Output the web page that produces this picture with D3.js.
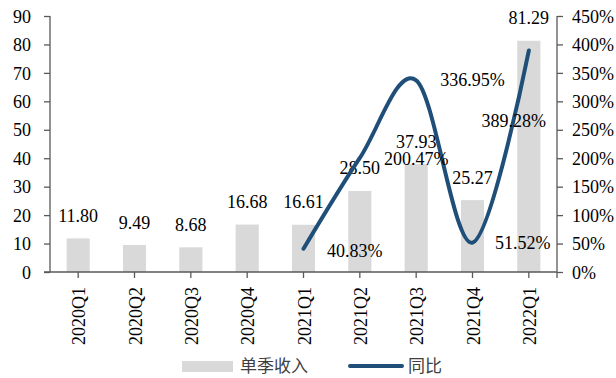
<!DOCTYPE html>
<html>
<head>
<meta charset="utf-8">
<script src="https://cdn.jsdelivr.net/npm/d3@7"></script>
<style>
  html, body { margin: 0; padding: 0; background: #fff; }
  svg { display: block; }
  .num { font-family: "Liberation Serif", "Times New Roman", serif; font-size: 18px; fill: #000; }
  .legend { font-family: "Noto Sans CJK SC", sans-serif; font-size: 17px; fill: #404040; }
</style>
</head>
<body>
<svg id="chart" width="616" height="378"></svg>
<script>
// Quarterly revenue (left axis) and year-on-year growth in % (right axis)
const quarters = ["2020Q1", "2020Q2", "2020Q3", "2020Q4", "2021Q1", "2021Q2", "2021Q3", "2021Q4", "2022Q1"];
const revenue = [11.80, 9.49, 8.68, 16.68, 16.61, 28.50, 37.93, 25.27, 81.29];
const yoy = [null, null, null, null, 40.83, 200.47, 336.95, 51.52, 389.28];
const leftTicks = [0, 10, 20, 30, 40, 50, 60, 70, 80, 90];
const rightTicks = [0, 50, 100, 150, 200, 250, 300, 350, 400, 450];
const seriesNames = ["单季收入", "同比"];

const svg = d3.select("#chart");
const plotL = 50, plotR = 557, plotT = 16, plotB = 272;
const axisColor = "#595959";
const barColor = "#d9d9d9";
const lineColor = "#1f4e79";

const x = d3.scaleBand().domain(quarters).range([plotL, plotR]).padding(0);
const yL = d3.scaleLinear().domain([0, 90]).range([plotB, plotT]);
const yR = d3.scaleLinear().domain([0, 450]).range([plotB, plotT]);
const cx = q => x(q) + x.bandwidth() / 2;
const barW = x.bandwidth() * 0.41;

// bars
svg.append("g").selectAll("rect").data(quarters).join("rect")
  .attr("x", (q) => cx(q) - barW / 2)
  .attr("y", (q, i) => yL(revenue[i]))
  .attr("width", barW)
  .attr("height", (q, i) => yL(0) - yL(revenue[i]))
  .attr("fill", barColor);

// bar value labels
svg.append("g").selectAll("text").data(quarters).join("text")
  .attr("class", "num")
  .attr("text-anchor", "middle")
  .attr("x", q => cx(q))
  .attr("y", (q, i) => yL(revenue[i]) - 16.5)
  .text((q, i) => revenue[i].toFixed(2));

// growth line
const pts = quarters.map((q, i) => ({ q, v: yoy[i] })).filter(d => d.v != null);
svg.append("path")
  .datum(pts)
  .attr("fill", "none")
  .attr("stroke", lineColor)
  .attr("stroke-width", 4)
  .attr("stroke-linecap", "round")
  .attr("d", d3.line().x(d => cx(d.q)).y(d => yR(d.v)).curve(d3.curveCatmullRom.alpha(0)));

// growth labels: each sits one slot to the right of its point
const growthLabelPlace = [
  { i: 4, at: 5, dx: -5, dy: 8 },
  { i: 5, at: 6, dx: 0, dy: 7.5 },
  { i: 6, at: 7, dx: 0, dy: 6 },
  { i: 7, at: 8, dx: -6, dy: 6.5 },
  { i: 8, at: 8, dx: -15, dy: 76 }
];
svg.append("g").selectAll("text").data(growthLabelPlace).join("text")
  .attr("class", "num")
  .attr("text-anchor", "middle")
  .attr("x", d => cx(quarters[d.at]) + d.dx)
  .attr("y", d => yR(yoy[d.i]) + d.dy)
  .text(d => yoy[d.i].toFixed(2) + "%");

// left axis
const gL = svg.append("g").attr("transform", `translate(${plotL},0)`)
  .call(d3.axisLeft(yL).tickValues(leftTicks).tickSize(6).tickPadding(13).tickFormat(d3.format("d")));
// right axis
const gR = svg.append("g").attr("transform", `translate(${plotR},0)`)
  .call(d3.axisRight(yR).tickValues(rightTicks).tickSize(6).tickPadding(9).tickFormat(d => d + "%"));
// bottom axis
const gB = svg.append("g").attr("transform", `translate(0,${plotB})`)
  .call(d3.axisBottom(x).tickSize(6).tickSizeOuter(0).tickFormat(""));

[gL, gR, gB].forEach(g => {
  g.select(".domain").attr("stroke", axisColor).attr("stroke-width", 1.3);
  g.selectAll(".tick line").attr("stroke", axisColor).attr("stroke-width", 1.3);
  g.selectAll(".tick text").attr("class", "num").attr("font-family", null).attr("font-size", null);
});
gL.select(".domain").attr("d", `M0,${plotT}V${plotB}`);
gR.select(".domain").attr("d", `M0,${plotT}V${plotB}`);
gB.select(".domain").attr("d", `M${plotL - 6},0H${plotR}`);
// end tick under the right axis
gB.append("line").attr("x1", plotR).attr("x2", plotR).attr("y1", 0).attr("y2", 6)
  .attr("stroke", axisColor).attr("stroke-width", 1.3);
gL.selectAll(".tick text").attr("dy", "0.34em");
gR.selectAll(".tick text").attr("dy", "0.34em");

// rotated category labels
svg.append("g").selectAll("text").data(quarters).join("text")
  .attr("class", "num")
  .attr("text-anchor", "end")
  .attr("dominant-baseline", "central")
  .attr("transform", q => `translate(${cx(q) + 1},287) rotate(-90)`)
  .text(q => q);

// legend
const lg = svg.append("g");
lg.append("rect").attr("x", 182).attr("y", 361).attr("width", 51).attr("height", 11).attr("fill", barColor);
lg.append("text").attr("class", "legend").attr("x", 240).attr("y", 372).text(seriesNames[0]);
lg.append("line").attr("x1", 350).attr("x2", 402).attr("y1", 366).attr("y2", 366)
  .attr("stroke", lineColor).attr("stroke-width", 4).attr("stroke-linecap", "round");
lg.append("text").attr("class", "legend").attr("x", 408).attr("y", 372).text(seriesNames[1]);
</script>
</body>
</html>
